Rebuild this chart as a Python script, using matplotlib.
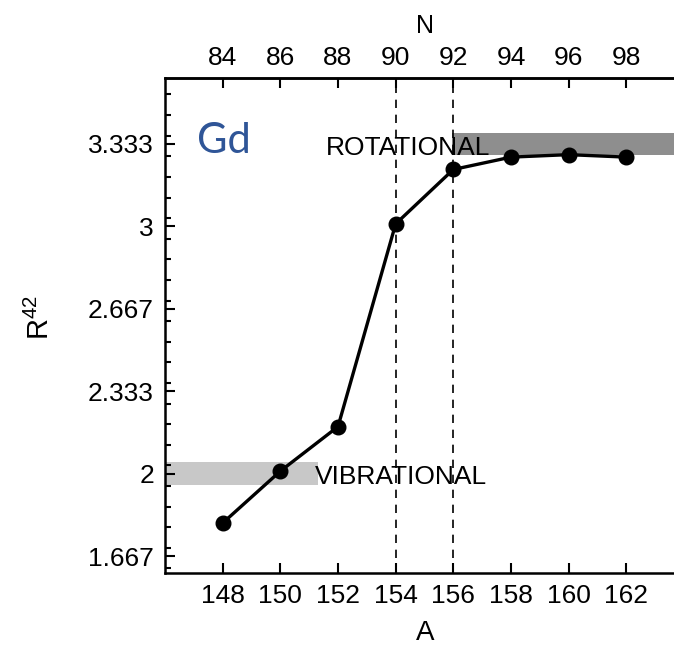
import matplotlib
matplotlib.use("Agg")
import matplotlib.pyplot as plt
import numpy as np

# Data
mass_A = [148, 150, 152, 154, 156, 158, 160, 162]
r42 = [1.80, 2.01, 2.19, 3.01, 3.23, 3.28, 3.29, 3.28]
y_ticks = [5/3, 2, 7/3, 8/3, 3, 10/3]
y_ticklabels = ["1.667", "2", "2.333", "2.667", "3", "3.333"]
x_ticks = [148, 150, 152, 154, 156, 158, 160, 162]
n_ticklabels = ["84", "86", "88", "90", "92", "94", "96", "98"]
transition_A = [154, 156]

plt.rcParams['font.family'] = ['Liberation Sans', 'DejaVu Sans']
plt.rcParams['mathtext.default'] = 'regular'

W, H = 674, 647
fig = plt.figure(figsize=(W/100, H/100), dpi=100)
left_px, right_px, top_px, bot_px = 165, 684, 78, 572.5
ax = fig.add_axes([left_px/W, 1 - bot_px/H, (right_px-left_px)/W, (bot_px-top_px)/H])
ax.set_xlim(146, 164)
ax.set_ylim(1.6, 3.6)

# bands
ax.fill_between([146, 151.3], 1.955, 2.045, color='#c8c8c8', lw=0, zorder=1)
ax.fill_between([155.95, 164], 3.289, 3.378, color='#8e8e8e', lw=0, zorder=1)

# dashed transition lines
for xa in transition_A:
    ax.axvline(xa, color='black', lw=1.2, ls=(0, (5, 4)), zorder=2)

ax.plot(mass_A, r42, color='black', lw=2.4, marker='o', ms=10.5, zorder=4)

ax.text(151.2, 1.956, "VIBRATIONAL", fontsize=19, va='baseline', ha='left', zorder=3)
ax.text(151.58, 3.289, "ROTATIONAL", fontsize=19, va='baseline', ha='left', zorder=3)
ax.text(147.1, 3.297, "Gd", fontsize=30, color='#2f5597', family=['Lato', 'DejaVu Sans'],
        va='baseline', ha='left', zorder=5)

for s in ax.spines.values():
    s.set_linewidth(1.8)

ax.set_yticks(y_ticks)
ax.set_yticklabels(y_ticklabels)
ax.set_yticks(np.arange(1.6 + 1/60, 3.6, 1/12), minor=True)
ax.set_xticks(x_ticks)
ax.tick_params(axis='y', which='major', direction='in', length=7, width=1.5, labelsize=19, pad=8)
ax.tick_params(axis='y', which='minor', direction='in', length=4, width=1.5)
ax.tick_params(axis='x', which='major', direction='in', length=7, width=1.5, labelsize=19, pad=8)

sec = ax.secondary_xaxis('top', functions=(lambda a: a - 64, lambda n: n + 64))
sec.set_xticks([int(t) for t in n_ticklabels])
sec.set_xticklabels(n_ticklabels)
sec.tick_params(direction='in', length=7, width=1.5, labelsize=19, pad=6)
sec.spines['top'].set_linewidth(1.8)

# axis titles
fig.text(425/W, 1 - 640/H, "A", fontsize=20, ha='center', va='baseline')
fig.text(425/W, 1 - 33/H, "N", fontsize=18, ha='center', va='baseline')
fig.text(40/W, 1 - 318/H, r"R$^{42}$", fontsize=21, rotation=90, ha='center', va='center')

fig.savefig("out.png", dpi=100)
